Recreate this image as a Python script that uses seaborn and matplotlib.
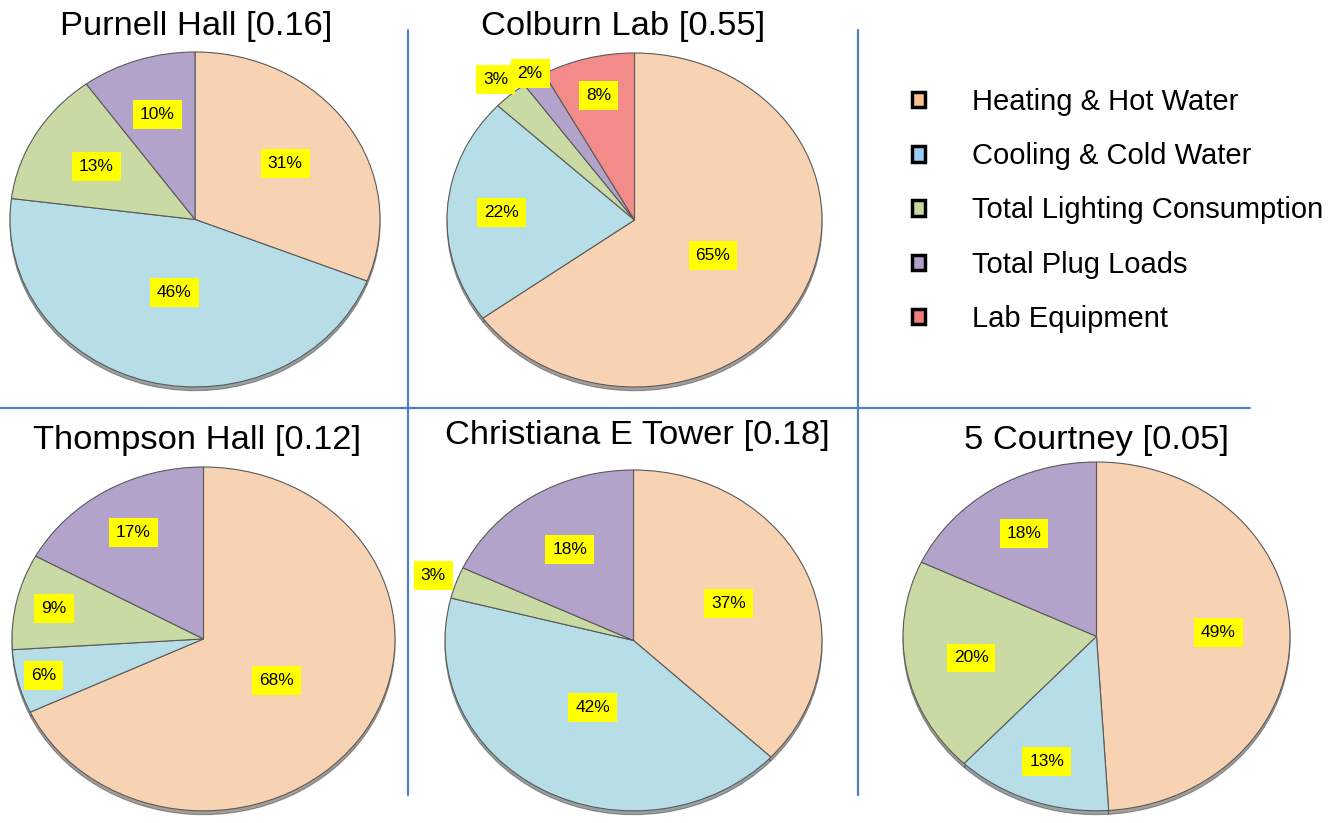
import numpy as np
import matplotlib
matplotlib.use('Agg')
import matplotlib.pyplot as plt
from matplotlib.lines import Line2D
import matplotlib.patches as mpatches
import seaborn as sns

sns.set_theme(style='white')
plt.rcParams['font.family'] = ['Liberation Sans', 'DejaVu Sans']
plt.rcParams['text.color'] = 'black'

# data
categories = ['Heating & Hot Water', 'Cooling & Cold Water', 'Total Lighting Consumption',
              'Total Plug Loads', 'Lab Equipment']
buildings = ['Purnell Hall', 'Colburn Lab', 'Thompson Hall', 'Christiana E Tower', '5 Courtney']
index_vals = ['0.16', '0.55', '0.12', '0.18', '0.05']
purnell = [31, 46, 13, 10, 0]
colburn = [65, 22, 3, 2, 8]
thompson = [68, 6, 9, 17, 0]
christiana = [37, 42, 3, 18, 0]
courtney = [49, 13, 20, 18, 0]
shares = [purnell, colburn, thompson, christiana, courtney]

pie_colors = ['#F7D2B3', '#B7DEE6', '#C9DAA4', '#B3A3CA', '#F38B8B']
legend_colors = ['#FBC08E', '#9CCBF5', '#C6DAA0', '#B09FC8', '#F47C7C']

# label distance from centre for every slice (fraction of radius)
label_r = [[0.59, 0.45, 0.62, 0.66, 0],
           [0.47, 0.71, 1.12, 1.04, 0.77],
           [0.45, 0.86, 0.80, 0.72, 0],
           [0.55, 0.45, 1.13, 0.63, 0],
           [0.63, 0.76, 0.66, 0.70, 0]]

W, H = 1343, 823
fig = plt.figure(figsize=(W / 100, H / 100), dpi=100)

# pie boxes in pixels: x0, x1, y_top, y_bottom ; title centres
boxes = [(10, 380, 52, 392), (447, 822, 53, 392), (12, 395, 467, 816),
         (445, 822, 470, 816), (903, 1290, 462, 816)]
title_pos = [(196, 27), (623, 27), (197, 440), (637, 436), (1097, 440)]

for name, val, vals, rr, box, tp in zip(buildings, index_vals, shares, label_r, boxes, title_pos):
    x0, x1, yt, yb = box
    ax = fig.add_axes([x0 / W, 1 - yb / H, (x1 - x0) / W, (yb - yt) / H])
    keep = [i for i, v in enumerate(vals) if v > 0]
    wedges, _ = ax.pie([vals[i] for i in keep], colors=[pie_colors[i] for i in keep],
                       startangle=90, counterclock=False,
                       wedgeprops=dict(edgecolor='#5a5a5a', linewidth=0.8),
                       shadow=dict(ox=0.0, oy=-0.016, shade=0.7))
    ax.set_aspect('auto')
    ax.set_xlim(-1.0, 1.0)
    ax.set_ylim(-1.03, 1.0)
    for w, i in zip(wedges, keep):
        mid = np.deg2rad((w.theta1 + w.theta2) / 2)
        r = rr[i]
        ax.text(r * np.cos(mid), r * np.sin(mid), f'{vals[i]}%', ha='center', va='center',
                fontsize=12.5, color='black', clip_on=False,
                bbox=dict(boxstyle='square,pad=0.4', facecolor='#FFFF00', edgecolor='none'))
    fig.text(tp[0] / W, 1 - tp[1] / H, f'{name} [{val}]', ha='center', va='center',
             fontsize=24.8, color='black')

# divider lines
line_col = '#4F81BD'
fig.add_artist(Line2D([408 / W, 408 / W], [1 - 30 / H, 1 - 795 / H], color=line_col, lw=1.6))
fig.add_artist(Line2D([858 / W, 858 / W], [1 - 30 / H, 1 - 795 / H], color=line_col, lw=1.6))
fig.add_artist(Line2D([0, 1250 / W], [1 - 408 / H, 1 - 408 / H], color=line_col, lw=1.6))

# legend
handles = [mpatches.Patch(facecolor=c, edgecolor='black', linewidth=2.5, label=l)
           for c, l in zip(legend_colors, categories)]
fig.legend(handles=handles, loc='upper left', bbox_to_anchor=(912 / W, 1 - 88 / H),
           frameon=False, fontsize=21, handlelength=0.45, handleheight=0.45,
           handletextpad=1.62, labelspacing=0.9, borderpad=0, borderaxespad=0)

fig.savefig('out.png', dpi=100, facecolor='white')
